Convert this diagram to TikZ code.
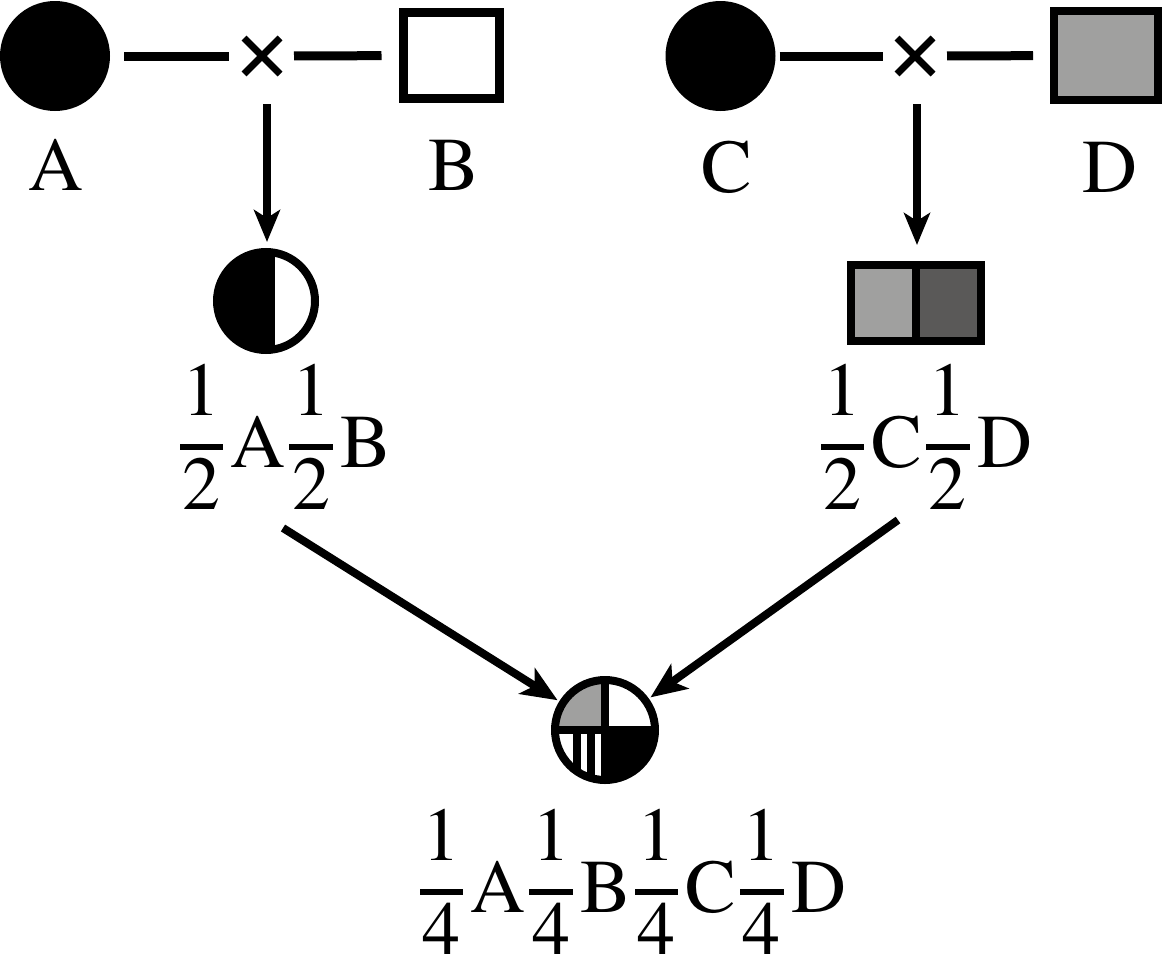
\documentclass[tikz,border=0pt]{standalone}
\usepackage{fontspec}
\setmainfont{texgyretermes}[Extension=.otf, UprightFont=*-regular, BoldFont=*-bold]
\usetikzlibrary{arrows.meta,shapes.misc}
\definecolor{lgray}{HTML}{A0A09F}
\definecolor{dgray}{HTML}{5A5958}
\newcommand\fr[2]{\hspace{0.05em}\makebox[0.57em][c]{\raisebox{0.68em}{#1}}\hspace{-0.57em}\rule[0.22em]{0.57em}{0.08em}\hspace{-0.57em}\makebox[0.57em][c]{\raisebox{-0.56em}{#2}}\hspace{0.1em}}
\tikzset{
  every node/.style={outer sep=0pt, inner sep=0pt},
  big/.style={font=\fontsize{76pt}{80pt}\selectfont},
  conn/.style={line width=9pt},
  arr/.style={line width=8pt, -{Stealth[length=32pt,width=26pt,inset=8pt]}},
  darr/.style={line width=8pt, -{Stealth[length=36pt,width=30pt,inset=9pt]}},
  crossmark/.style={cross out, draw, line width=7pt, minimum size=36pt},
  blackdot/.style={circle, fill=black, minimum size=110pt},
}
\begin{document}
\begin{tikzpicture}[x=1pt,y=-1pt]
\useasboundingbox (0,0) rectangle (1168,980);
% top left family
\node[blackdot] (pA) at (55,56) {};
\node[crossmark] (xA) at (262,56) {};
\node[draw, line width=9pt, minimum width=96pt, minimum height=86pt, fill=white] (pB) at (451.5,55.5) {};
\node[big, anchor=base] (lA) at (56,190) {A};
\node[big, anchor=base] (lB) at (454,190) {B};
\draw[conn, shorten <=14pt, shorten >=15pt] (pA) -- (xA);
\draw[conn, shorten <=14pt, shorten >=22pt] (xA) -- (pB);
% top right family
\node[blackdot] (pC) at (720.5,56) {};
\node[crossmark] (xC) at (915,56) {};
\node[draw, line width=8pt, minimum width=104pt, minimum height=89pt, fill=lgray] (pD) at (1106,55.5) {};
\node[big, anchor=base] (lC) at (727,192) {C};
\node[big, anchor=base] (lD) at (1110,192) {D};
\draw[conn, shorten <=4pt, shorten >=14pt] (pC) -- (xC);
\draw[conn, shorten <=14pt, shorten >=21pt] (xC) -- (pD);
% offspring left
\node[circle, draw, line width=8pt, minimum size=98pt, fill=white,
  path picture={\fill[black] (path picture bounding box.north west) rectangle ([xshift=9pt]path picture bounding box.south);}] (h) at (266,301) {};
\node[big, anchor=base west] (lh) at (176,467) {\fr{1}{2}A\fr{1}{2}B};
% offspring right
\node[draw, line width=8pt, minimum width=130pt, minimum height=76pt, fill=dgray,
  path picture={\fill[lgray] (path picture bounding box.north west) rectangle (path picture bounding box.south);
  \draw[black, line width=8pt] (path picture bounding box.north) -- (path picture bounding box.south);}] (sr) at (916,303) {};
\node[big, anchor=base west] (lr) at (817,467) {\fr{1}{2}C\fr{1}{2}D};
% vertical arrows
\coordinate (vA) at (267,104);
\coordinate (vC) at (917,104);
\draw[arr, shorten >=10pt] (vA) -- (vA |- h.north);
\draw[arr, shorten >=20pt] (vC) -- (vC |- sr.north);
% grandchild
\node[circle, draw, line width=8pt, minimum size=100pt, fill=white,
  path picture={
    \fill[lgray] (path picture bounding box.north west) rectangle (path picture bounding box.center);
    \fill[black] (path picture bounding box.center) rectangle (path picture bounding box.south east);
    \fill[black] ([xshift=-32pt]path picture bounding box.center) rectangle ([xshift=-24pt]path picture bounding box.south);
    \fill[black] ([xshift=-18pt]path picture bounding box.center) rectangle ([xshift=-10pt]path picture bounding box.south);
    \draw[black, line width=8pt] (path picture bounding box.north) -- (path picture bounding box.south);
    \draw[black, line width=8pt] (path picture bounding box.west) -- (path picture bounding box.east);
  }] (q) at (605,730) {};
\node[big, anchor=base west] (lq) at (416,912) {\fr{1}{4}A\fr{1}{4}B\fr{1}{4}C\fr{1}{4}D};
% diagonal arrows
\coordinate (dA) at (283,528);
\coordinate (dC) at (898,520);
\draw[darr, shorten >=6pt] (dA) -- (q);
\draw[darr, shorten >=6pt] (dC) -- (q);
\end{tikzpicture}
\end{document}
